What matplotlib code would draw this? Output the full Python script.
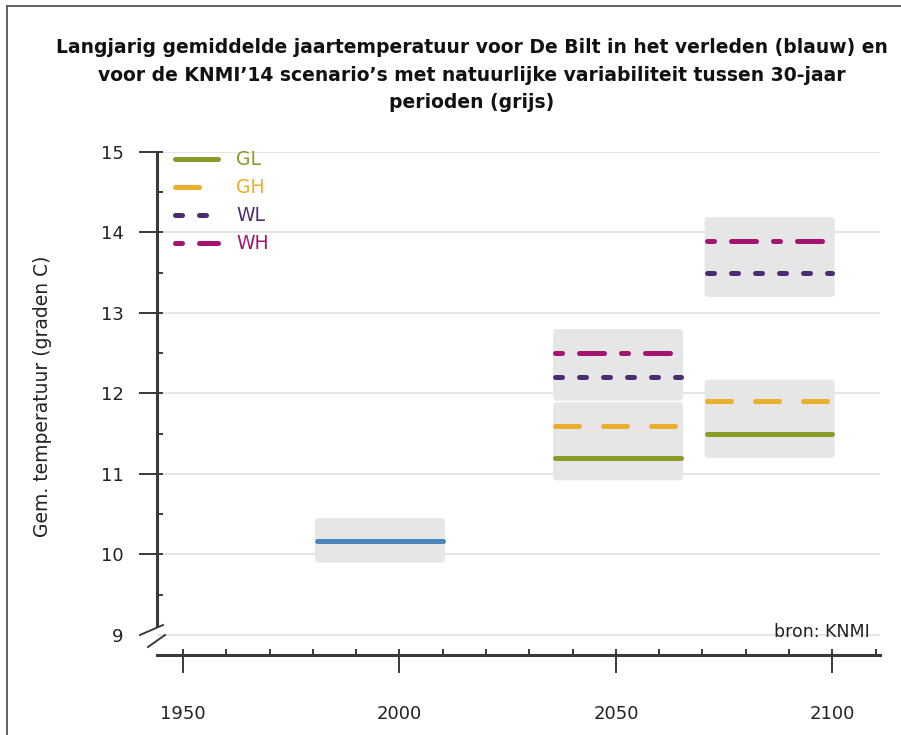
import numpy as np
import matplotlib
matplotlib.use("Agg")
import matplotlib.pyplot as plt
from matplotlib.patches import FancyBboxPatch
from matplotlib.lines import Line2D
from matplotlib.ticker import FixedLocator

plt.rcParams["font.family"] = ["DejaVu Sans"]

# ---- data ------------------------------------------------------------------
# observed 30-year mean, De Bilt 1981-2010
hist_start, hist_end = 1981, 2010
hist_temp = 10.17
hist_band = (9.90, 10.45)

# KNMI'14 scenario periods (2050 and 2085)
period_start = [2036, 2071]
period_end = [2065, 2100]
scen_names = ["GL", "GH", "WL", "WH"]
scen_GL = [11.2, 11.5]
scen_GH = [11.6, 11.9]
scen_WL = [12.2, 13.5]
scen_WH = [12.5, 13.9]

# natural variability between 30-year periods (grey bands), G and W groups
band_G_lo = [10.92, 11.20]
band_G_hi = [11.89, 12.17]
band_W_lo = [11.91, 13.20]
band_W_hi = [12.80, 14.19]

year_ticks = [1950, 2000, 2050, 2100]
temp_ticks = [9, 10, 11, 12, 13, 14, 15]

# ---- styles ----------------------------------------------------------------
C_HIST = "#4a84bd"
C_BAND = "#e6e6e6"
AXC = "#3a3a3a"
TXT = "#222222"
styles = {
    "GL": dict(color="#8c9a2a", ls="-"),
    "GH": dict(color="#eaae2a", ls=(0, (4.8, 4.8))),
    "WL": dict(color="#4b2c72", ls=(0, (1.4, 3.4))),
    "WH": dict(color="#a3136f", ls=(0, (1.4, 3.4, 5.0, 3.4))),
}
LW = 3.6

fig = plt.figure(figsize=(9.01, 7.35), dpi=100)
ax = fig.add_axes([157 / 901, 1 - 655 / 735, 723 / 901, 503 / 735])
ax.set_xlim(1944, 2111)
ax.set_ylim(8.75, 15)

PX_X = 723 / (2111 - 1944)   # px per year
PX_Y = 503 / (15 - 8.75)      # px per degree


def px(x, y):
    return x / 901, 1 - y / 735


# thin frame along the top and left of the figure
for (xa, ya), (xb, yb) in [((7, 6), (901, 6)), ((7, 6), (7, 735))]:
    (fx0, fy0), (fx1, fy1) = px(xa, ya), px(xb, yb)
    fig.add_artist(Line2D([fx0, fx1], [fy0, fy1], transform=fig.transFigure,
                          color="#555555", lw=1.3))


def band(x0, x1, lo, hi):
    ax.add_patch(FancyBboxPatch((x0 - 0.5, lo), x1 - x0 + 1, hi - lo,
                                boxstyle="round,pad=0,rounding_size=0.8",
                                mutation_aspect=PX_X / PX_Y,
                                fc=C_BAND, ec="none", zorder=1))


def seg(x0, x1, y, **kw):
    ax.plot([x0, x1], [y, y], lw=LW, solid_capstyle="round",
            dash_capstyle="round", zorder=3, **kw)


# grey bands
band(hist_start, hist_end, *hist_band)
for i in range(len(period_start)):
    band(period_start[i], period_end[i], band_G_lo[i], band_G_hi[i])
    band(period_start[i], period_end[i], band_W_lo[i], band_W_hi[i])

# observed mean
seg(hist_start, hist_end, hist_temp, color=C_HIST)

# scenario means
scen_vals = {"GL": scen_GL, "GH": scen_GH, "WL": scen_WL, "WH": scen_WH}
for name in scen_names:
    for i in range(len(period_start)):
        seg(period_start[i], period_end[i], scen_vals[name][i], **styles[name])

# ---- axes ------------------------------------------------------------------
for s in ["top", "right"]:
    ax.spines[s].set_visible(False)
for s in ["left", "bottom"]:
    ax.spines[s].set_color(AXC)
    ax.spines[s].set_linewidth(2.2)
ax.spines["left"].set_bounds(9.12, 15)

ax.set_xticks(year_ticks)
ax.set_xticklabels([str(y) for y in year_ticks])
ax.xaxis.set_minor_locator(FixedLocator(np.arange(1950, 2111, 10)))
ax.set_yticks(temp_ticks)
ax.set_yticklabels([str(t) for t in temp_ticks])
ax.yaxis.set_minor_locator(FixedLocator(np.arange(9.5, 15.01, 0.5)))
ax.xaxis.remove_overlapping_locs = False
ax.yaxis.remove_overlapping_locs = False

ax.tick_params(which="major", direction="out", length=13, width=1.4,
               color=AXC, labelsize=13, labelcolor=TXT)
ax.tick_params(which="minor", direction="in", length=4.5, width=1.4, color=AXC)
ax.tick_params(axis="x", which="major", pad=23)
ax.tick_params(axis="y", which="major", pad=11)
ax.yaxis.get_major_ticks()[0].tick1line.set_visible(False)

ax.grid(axis="y", which="major", color="#dedede", lw=1.1, zorder=0)
ax.set_axisbelow(True)

ax.set_ylabel("Gem. temperatuur (graden C)", fontsize=13.5, color=TXT)
ax.yaxis.set_label_coords(-0.145, 0.515)

# axis break marks below the y axis
for (xa, ya), (xb, yb) in [((140, 635), (163, 625)), ((148, 647), (165, 635))]:
    (fx0, fy0), (fx1, fy1) = px(xa, ya), px(xb, yb)
    fig.add_artist(Line2D([fx0, fx1], [fy0, fy1], transform=fig.transFigure,
                          color=AXC, lw=1.4))

ax.text(0.986, 9.03, "bron: KNMI", transform=ax.get_yaxis_transform(),
        ha="right", va="center", fontsize=12.5, color=TXT)

# legend
handles = [Line2D([], [], lw=LW, solid_capstyle="round", dash_capstyle="round",
                  **styles[n]) for n in scen_names]
ax.legend(handles, scen_names, loc="upper left", bbox_to_anchor=(0.025, 1.003),
          frameon=False, handlelength=2.3, handletextpad=0.95,
          labelspacing=0.48, borderpad=0, borderaxespad=0,
          labelcolor="linecolor", fontsize=13.5)

fig.text(0.524, 1 - 38 / 735,
         "Langjarig gemiddelde jaartemperatuur voor De Bilt in het verleden (blauw) en\n"
         "voor de KNMI\u201914 scenario\u2019s met natuurlijke variabiliteit tussen 30-jaar\n"
         "perioden (grijs)",
         ha="center", va="top", fontsize=13.5, fontweight="bold",
         linespacing=1.58, color="#111111")

fig.savefig("out.png", dpi=100)
